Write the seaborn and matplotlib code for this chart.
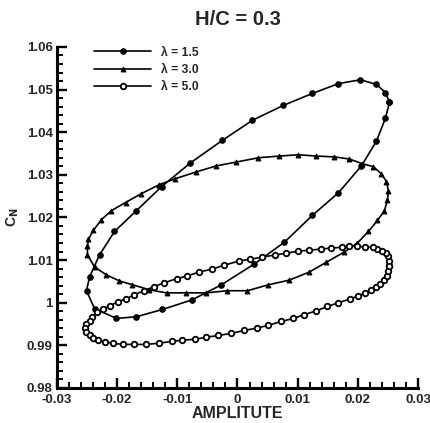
import matplotlib
matplotlib.use("Agg")
import matplotlib.pyplot as plt
import matplotlib.ticker as mticker
import seaborn as sns
import pandas as pd

# ---- data ----
labels = ["λ = 1.5", "λ = 3.0", "λ = 5.0"]

amp_15 = [0.02525, 0.02458, 0.02309, 0.02043, 0.01678, 0.01246, 0.00764, 0.00249,
          -0.00249, -0.00781, -0.01262, -0.01678, -0.02043, -0.02292, -0.02458, -0.02508,
          -0.02375, -0.02010, -0.01678, -0.01246, -0.00748, -0.00266, 0.00282, 0.00781,
          0.01246, 0.01678, 0.02060, 0.02309, 0.02458, 0.02525]
cn_15 = [1.0470, 1.0493, 1.0512, 1.0523, 1.0514, 1.0491, 1.0463, 1.0428,
         1.0381, 1.0328, 1.0272, 1.0216, 1.0167, 1.0112, 1.0060, 1.0028,
         0.9986, 0.9963, 0.9967, 0.9984, 1.0007, 1.0042, 1.0091, 1.0142,
         1.0205, 1.0258, 1.0321, 1.0379, 1.0433, 1.0470]

amp_30 = [-0.01296, -0.01595, -0.01860, -0.02093, -0.02259, -0.02392, -0.02475, -0.02492,
          -0.02492, -0.02375, -0.02176, -0.01960, -0.01744, -0.01462, -0.01179, -0.00847,
          -0.00515, -0.00166, 0.00166, 0.00515, 0.00864, 0.01196, 0.01478, 0.01777,
          0.01993, 0.02176, 0.02326, 0.02442, 0.02492, 0.02508, 0.02475, 0.02392,
          0.02259, 0.02076, 0.01860, 0.01611, 0.01312, 0.01013, 0.00698, 0.00349,
          -0.00017, -0.00349, -0.00681, -0.01030, -0.01296]
cn_30 = [1.0277, 1.0256, 1.0235, 1.0216, 1.0195, 1.0170, 1.0149, 1.0133,
         1.0112, 1.0084, 1.0065, 1.0051, 1.0042, 1.0030, 1.0023, 1.0023,
         1.0023, 1.0028, 1.0028, 1.0042, 1.0053, 1.0072, 1.0095, 1.0119,
         1.0140, 1.0167, 1.0193, 1.0216, 1.0242, 1.0263, 1.0284, 1.0302,
         1.0319, 1.0326, 1.0337, 1.0342, 1.0344, 1.0347, 1.0344, 1.0340,
         1.0330, 1.0321, 1.0307, 1.0291, 1.0277]

amp_50 = [0.02525, 0.02525, 0.02508, 0.02475, 0.02409, 0.02326, 0.02243, 0.02126,
          0.01993, 0.01860, 0.01728, 0.01561, 0.01395, 0.01196, 0.01013, 0.00814,
          0.00631, 0.00415, 0.00216, 0.00033, -0.00216, -0.00415, -0.00631, -0.00831,
          -0.01013, -0.01213, -0.01395, -0.01545, -0.01711, -0.01844, -0.01993, -0.02110,
          -0.02226, -0.02326, -0.02409, -0.02458, -0.02510, -0.02540, -0.02510, -0.02458,
          -0.02392, -0.02309, -0.02193, -0.02076, -0.01910, -0.01711, -0.01512, -0.01296,
          -0.01096, -0.00914, -0.00714, -0.00515, -0.00316, -0.00100, 0.00116, 0.00316,
          0.00515, 0.00731, 0.00930, 0.01113, 0.01312, 0.01495, 0.01678, 0.01877,
          0.02010, 0.02126, 0.02226, 0.02309, 0.02375, 0.02442, 0.02492, 0.02508, 0.02525]
cn_50 = [1.0086, 1.0098, 1.0109, 1.0116, 1.0121, 1.0126, 1.0130, 1.0130,
         1.0133, 1.0133, 1.0130, 1.0128, 1.0126, 1.0123, 1.0121, 1.0116,
         1.0112, 1.0107, 1.0102, 1.0098, 1.0088, 1.0079, 1.0072, 1.0063,
         1.0056, 1.0047, 1.0037, 1.0028, 1.0019, 1.0009, 1.0002, 0.9993,
         0.9986, 0.9977, 0.9967, 0.9958, 0.9949, 0.9940, 0.9930, 0.9923,
         0.9916, 0.9912, 0.9907, 0.9905, 0.9902, 0.9902, 0.9902, 0.9905,
         0.9909, 0.9912, 0.9914, 0.9919, 0.9923, 0.9928, 0.9935, 0.9940,
         0.9947, 0.9956, 0.9963, 0.9972, 0.9981, 0.9991, 1.0000, 1.0009,
         1.0016, 1.0023, 1.0030, 1.0037, 1.0044, 1.0053, 1.0063, 1.0074, 1.0086]

x_ticks = [-0.03, -0.02, -0.01, 0, 0.01, 0.02, 0.03]
y_ticks = [0.98, 0.99, 1.00, 1.01, 1.02, 1.03, 1.04, 1.05, 1.06]

# ---- style ----
sns.set_style("ticks")
plt.rcParams['font.family'] = ['Liberation Sans', 'DejaVu Sans']
plt.rcParams['font.weight'] = 'bold'

fig = plt.figure(figsize=(4.31, 4.23), dpi=100)
ax = fig.add_axes([0.132, 0.083, 0.838, 0.806])

series = [
    (amp_15, cn_15, dict(marker="o", markersize=4.0, markerfacecolor="black", markeredgecolor="black")),
    (amp_30, cn_30, dict(marker="^", markersize=3.5, markerfacecolor="black", markeredgecolor="black")),
    (amp_50, cn_50, dict(marker="o", markersize=4.0, markerfacecolor="white", markeredgecolor="black",
                         markeredgewidth=1.3)),
]
for (xs, ys, mk), lab in zip(series, labels):
    df = pd.DataFrame({"AMPLITUTE": xs, "CN": ys})
    sns.lineplot(data=df, x="AMPLITUTE", y="CN", sort=False, estimator=None, ax=ax,
                 color="black", linewidth=1.2, label=lab, **mk)

ax.set_xlim(-0.03, 0.03)
ax.set_ylim(0.98, 1.06)
ax.set_xticks(x_ticks)
ax.set_yticks(y_ticks)
fmt = mticker.FuncFormatter(lambda v, p: "%g" % round(v, 4))
ax.xaxis.set_major_formatter(fmt)
ax.yaxis.set_major_formatter(fmt)
ax.xaxis.set_minor_locator(mticker.MultipleLocator(0.002))
ax.yaxis.set_minor_locator(mticker.MultipleLocator(0.002))
ax.tick_params(which="major", direction="in", length=7, width=1.7, labelsize=9.5, color="black")
ax.tick_params(axis="x", which="major", pad=4.5)
ax.tick_params(axis="y", which="major", pad=3)
ax.tick_params(which="minor", direction="in", length=4, width=1.4, color="black")
for lab in ax.get_xticklabels() + ax.get_yticklabels():
    lab.set_fontweight("bold")

for s in ["top", "right"]:
    ax.spines[s].set_visible(False)
for s in ["left", "bottom"]:
    ax.spines[s].set_linewidth(2.2)
    ax.spines[s].set_color("black")

ax.set_xlabel("AMPLITUTE", fontsize=11.5, fontweight="bold", labelpad=0)
ax.set_ylabel(r"C$_{\mathbf{N}}$", fontsize=10, fontweight="bold", labelpad=4)
ax.set_title("H/C = 0.3", fontsize=14.5, fontweight="bold", pad=16)

leg = ax.legend(loc="upper left", bbox_to_anchor=(0.09, 1.015), frameon=False,
                fontsize=8.7, handlelength=4.7, handletextpad=0.8, labelspacing=0.42,
                markerscale=1.0, borderaxespad=0)
for t in leg.get_texts():
    t.set_fontweight("bold")

fig.savefig("out.png", dpi=100)
